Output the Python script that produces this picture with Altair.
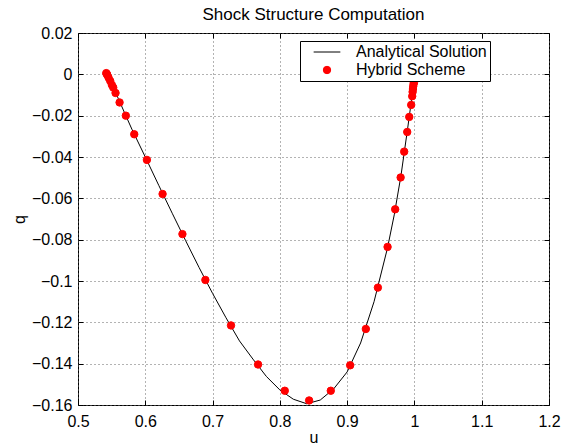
import altair as alt
import pandas as pd

# ---- data ----
line_u = [0.5426, 0.545, 0.55, 0.56, 0.57, 0.58, 0.60, 0.62, 0.64, 0.66, 0.68, 0.70,
          0.72, 0.74, 0.76, 0.78, 0.80, 0.82, 0.84, 0.86, 0.88, 0.90, 0.92, 0.94,
          0.96, 0.97, 0.98, 0.99, 0.995, 1.0]
line_q = [0.0, -0.0013, -0.0045, -0.0118, -0.0192, -0.0265, -0.0400, -0.0537, -0.0672,
          -0.0805, -0.0935, -0.1060, -0.1178, -0.1290, -0.1378, -0.1462, -0.1527, -0.1572,
          -0.1594, -0.1576, -0.1522, -0.1440, -0.1300, -0.1100, -0.0840, -0.0680, -0.0490,
          -0.0260, -0.0140, 0.0]

pts_u = [0.5420, 0.5428, 0.5435, 0.5454, 0.5479, 0.5503, 0.5524, 0.5558, 0.5618, 0.5711,
         0.5836, 0.6024, 0.6257, 0.6552, 0.6893, 0.7274, 0.7676, 0.8073, 0.8435, 0.8757,
         0.9045, 0.9278, 0.9457, 0.9601, 0.9714, 0.9795, 0.9848, 0.9893, 0.9923, 0.9952,
         0.9967, 0.9973, 0.9978, 0.9982, 0.9988, 0.9993, 0.9997, 1.0]
pts_q = [0.0006, 0.0002, -0.0003, -0.0016, -0.0032, -0.0051, -0.0064, -0.0090, -0.0136,
         -0.0200, -0.0290, -0.0414, -0.0579, -0.0773, -0.0995, -0.1215, -0.1404, -0.1531,
         -0.1578, -0.1531, -0.1408, -0.1232, -0.1032, -0.0835, -0.0653, -0.0499, -0.0374,
         -0.0279, -0.0206, -0.0148, -0.0106, -0.0085, -0.0071, -0.0058, -0.0046, -0.0039,
         -0.0020, 0.0]

x_ticks = [0.5, 0.6, 0.7, 0.8, 0.9, 1.0, 1.1, 1.2]
y_ticks = [0.02, 0.0, -0.02, -0.04, -0.06, -0.08, -0.10, -0.12, -0.14, -0.16]

series_names = ["Analytical Solution", "Hybrid Scheme"]
title_text = "Shock Structure Computation"

line_df = pd.DataFrame({"u": line_u, "q": line_q, "series": series_names[0]})
pts_df = pd.DataFrame({"u": pts_u, "q": pts_q, "series": series_names[1]})

FONT = "Liberation Sans"
FS = 16

xscale = alt.Scale(domain=[0.5, 1.2], nice=False, zero=False)
yscale = alt.Scale(domain=[-0.16, 0.02], nice=False, zero=False)
color_scale = alt.Scale(domain=series_names, range=["black", "red"])
fill_scale = alt.Scale(domain=series_names, range=["black", "red"])
shape_scale = alt.Scale(domain=series_names, range=["M-3.6,0H3.6", "circle"])

legend = alt.Legend(
    title=None, orient="none", legendX=222, legendY=8,
    fillColor="white", strokeColor="black", padding=3, cornerRadius=0,
    labelFont=FONT, labelFontSize=FS, labelColor="black",
    symbolSize=55, symbolStrokeWidth=1, symbolOffset=16, labelOffset=21,
    rowPadding=2,
)

common_axis = dict(
    tickSize=5, tickColor="black", offset=-5, domain=False,
    labelFont=FONT, labelFontSize=FS, labelColor="black",
    labelFlush=False, labelOverlap=False,
    titleFont=FONT, titleFontSize=FS, titleFontWeight="normal", titleColor="black",
)

x_axis = alt.Axis(orient="bottom", values=x_ticks, format=".1~f", grid=True,
                  gridDash=[1, 3], gridColor="#666", gridOpacity=1,
                  labelPadding=8, title="u", titlePadding=0, **common_axis)
y_axis = alt.Axis(orient="left", values=y_ticks, format=".2~f", grid=True,
                  gridDash=[1, 3], gridColor="#666", gridOpacity=1,
                  labelPadding=6, title="q", titlePadding=4, **common_axis)

x_top = alt.Axis(orient="top", values=x_ticks, labels=False, grid=False, title=None,
                 tickSize=5, tickColor="black", offset=-5, domain=False)
y_right = alt.Axis(orient="right", values=y_ticks, labels=False, grid=False, title=None,
                   tickSize=5, tickColor="black", offset=-5, domain=False)

line_layer = alt.Chart(line_df).mark_line(strokeWidth=1, clip=True).encode(
    x=alt.X("u:Q", scale=xscale, axis=x_axis),
    y=alt.Y("q:Q", scale=yscale, axis=y_axis),
    color=alt.Color("series:N", scale=color_scale, legend=legend),
)

pts_layer = alt.Chart(pts_df).mark_point(filled=False, size=55, strokeWidth=1, opacity=1).encode(
    x=alt.X("u:Q", scale=xscale, axis=None),
    y=alt.Y("q:Q", scale=yscale, axis=None),
    color=alt.Color("series:N", scale=color_scale, legend=legend),
    fill=alt.Fill("series:N", scale=fill_scale, legend=legend),
    shape=alt.Shape("series:N", scale=shape_scale, legend=legend),
)

frame_layer = alt.Chart(pts_df).mark_point(opacity=0).encode(
    x=alt.X("u:Q", scale=xscale, axis=x_top),
    y=alt.Y("q:Q", scale=yscale, axis=y_right),
)

chart = alt.layer(line_layer, pts_layer, frame_layer).resolve_axis(
    x="independent", y="independent"
).properties(
    width=471, height=372,
    title=alt.Title(title_text, font=FONT, fontSize=17, fontWeight="normal",
                    color="black", offset=1, anchor="middle"),
    autosize=alt.AutoSizeParams(type="none"),
    padding={"left": 78, "top": 33, "right": 16, "bottom": 43},
    background="white",
).configure_view(stroke="black", strokeWidth=1)

chart.save("out.html", embed_options={"renderer": "svg", "actions": False})
